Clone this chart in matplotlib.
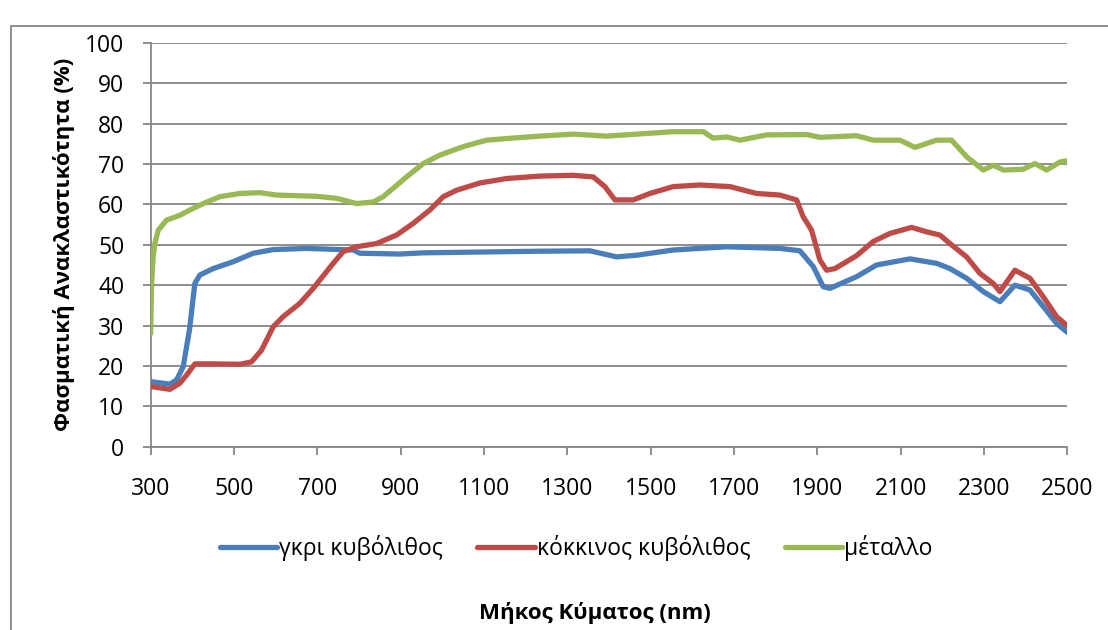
import matplotlib
matplotlib.use("Agg")
import matplotlib.pyplot as plt
from matplotlib.patches import Rectangle

plt.rcParams['font.family'] = ['Open Sans', 'DejaVu Sans']

# Spectral reflectance (%) vs wavelength (nm)
wl_grey = [300, 346, 362, 378, 393, 406, 418, 450, 498, 546, 594, 674, 786, 802, 898, 954,
           1234, 1354, 1418, 1466, 1554, 1682, 1810, 1858, 1890, 1914, 1930, 1994, 2042,
           2122, 2186, 2218, 2258, 2298, 2338, 2374, 2410, 2442, 2474, 2500]
refl_grey = [16.1, 15.5, 16.5, 19.8, 28.9, 40.4, 42.5, 44.1, 45.8, 47.9, 48.8, 49.1, 48.7, 47.9,
             47.7, 48.0, 48.4, 48.5, 47.0, 47.4, 48.7, 49.5, 49.1, 48.5, 44.6, 39.6, 39.2, 42.1,
             45.0, 46.5, 45.4, 44.1, 41.7, 38.4, 35.9, 40.0, 38.8, 34.7, 30.5, 28.3]

wl_red = [300, 346, 370, 386, 406, 450, 514, 542, 566, 594, 618, 658, 690, 738, 762, 794, 842,
          890, 930, 970, 1002, 1034, 1090, 1154, 1234, 1314, 1362, 1390, 1414, 1458, 1498, 1554,
          1618, 1690, 1754, 1810, 1850, 1866, 1886, 1906, 1922, 1942, 1994, 2034, 2074, 2126,
          2162, 2194, 2218, 2258, 2290, 2322, 2338, 2374, 2410, 2442, 2474, 2500]
refl_red = [14.9, 14.2, 15.7, 17.7, 20.5, 20.5, 20.4, 21.0, 23.9, 29.7, 32.2, 35.5, 39.2, 45.4,
            48.3, 49.5, 50.3, 52.4, 55.3, 58.6, 61.9, 63.5, 65.3, 66.4, 67.0, 67.2, 66.8, 64.4,
            61.1, 61.1, 62.7, 64.4, 64.8, 64.4, 62.7, 62.3, 61.1, 56.9, 53.6, 46.2, 43.7, 44.1,
            47.3, 50.8, 52.8, 54.3, 53.2, 52.4, 50.3, 47.0, 42.9, 40.4, 38.4, 43.7, 41.7, 37.1,
            32.2, 29.9]

wl_metal = [300, 302, 306, 310, 318, 338, 370, 394, 426, 466, 514, 562, 602, 698, 746, 794, 834,
            858, 914, 954, 994, 1050, 1106, 1154, 1234, 1314, 1394, 1554, 1626, 1650, 1682, 1714,
            1778, 1874, 1906, 1994, 2034, 2098, 2134, 2186, 2222, 2258, 2298, 2322, 2346, 2394,
            2422, 2450, 2482, 2500]
refl_metal = [28.0, 40.0, 47.0, 50.3, 53.6, 56.1, 57.3, 58.6, 60.2, 61.9, 62.7, 62.9, 62.3, 62.0,
              61.5, 60.2, 60.6, 61.9, 66.8, 70.1, 72.2, 74.3, 75.9, 76.3, 76.9, 77.4, 76.9, 78.0,
              78.0, 76.4, 76.7, 75.9, 77.2, 77.3, 76.6, 77.0, 75.9, 75.9, 74.1, 75.9, 75.9, 71.8,
              68.5, 69.7, 68.5, 68.7, 70.1, 68.5, 70.5, 70.8]

labels = ['γκρι κυβόλιθος', 'κόκκινος κυβόλιθος', 'μέταλλο']
colors = ['#4a7ebb', '#be4b48', '#98b954']
x_ticks = list(range(300, 2501, 200))
y_ticks = list(range(0, 101, 10))

fig = plt.figure(figsize=(11.08, 6.3), dpi=100)
ax = fig.add_axes([0.136, 0.291, 0.8274, 0.641])

series = [(wl_grey, refl_grey), (wl_red, refl_red), (wl_metal, refl_metal)]
for (x, y), lab, c in zip(series, labels, colors):
    ax.plot(x, y, color=c, lw=3.8, label=lab, solid_capstyle='round',
            solid_joinstyle='round', zorder=3)

grid_c = '#868686'
ax.set_xlim(300, 2500)
ax.set_ylim(0, 100)
ax.set_xticks(x_ticks)
ax.set_yticks(y_ticks)
ax.grid(axis='y', color=grid_c, lw=1.3)
ax.set_axisbelow(True)
for s in ['top', 'right']:
    ax.spines[s].set_visible(False)
for s in ['left', 'bottom']:
    ax.spines[s].set_color(grid_c)
    ax.spines[s].set_linewidth(1.3)
ax.tick_params(axis='both', direction='out', length=6, width=1.3, color=grid_c,
               labelsize=16.5)
ax.tick_params(axis='x', pad=16)
ax.tick_params(axis='y', pad=13)

ax.set_xlabel('Μήκος Κύματος (nm)', fontsize=16, fontweight='bold')
ax.xaxis.set_label_coords(0.485, -0.385)
ax.set_ylabel('Φασματική Ανακλαστικότητα (%)', fontsize=16, fontweight='bold')
ax.yaxis.set_label_coords(-0.083, 0.5)

fig.legend(loc='center', bbox_to_anchor=(0.52, 0.13), ncol=3, frameon=False,
           fontsize=16.5, handlelength=2.5, handletextpad=0.1, columnspacing=1.5)

# chart area frame
fig.patches.append(Rectangle((11 / 1108, -0.1), 1.2, 1.079 - 13 / 630, transform=fig.transFigure,
                             fill=False, edgecolor='#868686', lw=1.3))

fig.savefig('out.png', dpi=100)
